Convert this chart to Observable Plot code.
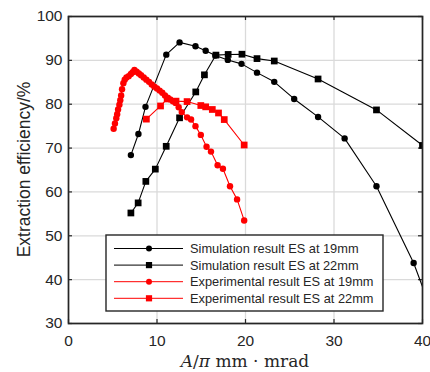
<!DOCTYPE html>
<html><head><meta charset="utf-8">
<script src="https://cdn.jsdelivr.net/npm/d3@7"></script>
<script src="https://cdn.jsdelivr.net/npm/@observablehq/plot@0.6"></script>
<style>body{margin:0;background:#fff} #chart{width:430px;height:372px}</style>
</head><body><div id="chart"></div>
<script>
// ---- data ----
const sim19X = [7.05, 7.9, 8.7, 11.05, 12.55, 14.35, 15.5, 16.6, 18.0, 19.55, 21.3, 23.25, 25.5, 28.2, 31.2, 34.8, 39.0, 41.0];
const sim19Y = [68.4, 73.2, 79.4, 91.3, 94.1, 93.2, 92.2, 91.1, 90.1, 89.2, 87.2, 85.1, 81.2, 77.1, 72.2, 61.3, 43.8, 33.0];
const sim22X = [7.05, 7.87, 8.74, 9.81, 11.04, 12.55, 14.38, 15.36, 16.66, 18.04, 19.6, 21.3, 23.25, 28.2, 34.8, 40.0];
const sim22Y = [55.2, 57.5, 62.4, 65.2, 70.4, 76.9, 82.8, 86.7, 91.2, 91.35, 91.4, 90.4, 89.85, 85.75, 78.7, 70.6];
const exp19X = [5.1, 5.25, 5.4, 5.5, 5.6, 5.75, 5.85, 5.95, 6.05, 6.2, 6.35, 6.55, 6.8, 7.05, 7.25, 7.45, 7.7, 7.95, 8.2, 8.5, 8.8, 9.1, 9.4, 9.7, 10.0, 10.3, 10.6, 10.9, 11.2, 11.5, 11.8, 12.1, 12.45, 12.8, 13.4, 13.85, 14.35, 14.95, 15.6, 16.1, 16.85, 17.45, 18.25, 19.05, 19.85];
const exp19Y = [74.4, 75.6, 76.8, 77.7, 78.8, 79.9, 80.9, 82.0, 83.4, 84.8, 85.6, 86.1, 86.4, 86.9, 87.3, 87.8, 87.4, 87.0, 86.6, 86.1, 85.6, 85.1, 84.5, 84.0, 83.6, 83.1, 82.6, 82.0, 81.5, 81.1, 80.7, 80.3, 79.3, 78.2, 77.0, 76.5, 75.0, 73.0, 70.3, 69.2, 66.1, 65.3, 61.3, 58.3, 53.5];
const exp22X = [8.8, 10.4, 11.15, 12.15, 13.4, 14.95, 15.5, 16.25, 16.95, 17.6, 19.85];
const exp22Y = [76.6, 79.6, 81.2, 80.7, 80.6, 79.7, 79.4, 78.8, 78.0, 76.5, 70.7];
const xTicks = [0, 10, 20, 30, 40];
const yTicks = [30, 40, 50, 60, 70, 80, 90, 100];
const seriesNames = ["Simulation result ES at 19mm", "Simulation result ES at 22mm", "Experimental result ES at 19mm", "Experimental result ES at 22mm"];
const seriesColors = ["#000000", "#000000", "#ff0000", "#ff0000"];
const seriesSymbols = ["circle", "square", "circle", "square"];
const yLabel = "Extraction efficiency/%";

// ---- build ----
const zip = (xs, ys, s) => xs.map((x, i) => ({x, y: ys[i], s}));
const series = [
  zip(sim19X, sim19Y, 0), zip(sim22X, sim22Y, 1), zip(exp19X, exp19Y, 2), zip(exp22X, exp22Y, 3)
];
const W = 430, H = 372, mL = 68, mR = 8, mT = 16, mB = 49;
const plotW = W - mL - mR, plotH = H - mT - mB;
const axisColor = "#262626";
const font = "'Liberation Sans', Arial, sans-serif";

const marks = [
  Plot.gridX(xTicks, {stroke: "#dadada", strokeOpacity: 1, strokeWidth: 1.3}),
  Plot.gridY(yTicks, {stroke: "#dadada", strokeOpacity: 1, strokeWidth: 1.3}),
  Plot.axisX(xTicks, {tickSize: 0, tickPadding: 11, label: null, fontSize: 15.5, fill: axisColor}),
  Plot.axisY(yTicks, {tickSize: 0, tickPadding: 6, label: null, fontSize: 15.5, fill: axisColor}),
  Plot.tickX(xTicks, {x: d => d, insetTop: plotH - 4, stroke: axisColor, strokeWidth: 1.2}),
  Plot.tickX(xTicks, {x: d => d, insetBottom: plotH - 4, stroke: axisColor, strokeWidth: 1.2}),
  Plot.tickY(yTicks, {y: d => d, insetRight: plotW - 4, stroke: axisColor, strokeWidth: 1.2}),
  Plot.tickY(yTicks, {y: d => d, insetLeft: plotW - 4, stroke: axisColor, strokeWidth: 1.2})
];
series.forEach((data, i) => {
  marks.push(Plot.line(data, {x: "x", y: "y", stroke: seriesColors[i], strokeWidth: 1.1, clip: true}));
  marks.push(Plot.dot(data, {x: "x", y: "y", fill: seriesColors[i], stroke: "none",
    symbol: seriesSymbols[i], r: seriesSymbols[i] === "circle" ? 3.2 : 3.8, clip: true}));
});
marks.push(Plot.frame({stroke: axisColor, strokeWidth: 1.7}));

const chart = Plot.plot({
  width: W, height: H, marginLeft: mL, marginRight: mR, marginTop: mT, marginBottom: mB,
  style: {fontFamily: font, fontSize: "15.5px", color: axisColor, background: "#fff", overflow: "visible"},
  x: {domain: [0, 40]}, y: {domain: [30, 100]},
  marks
});
document.getElementById("chart").appendChild(chart);

const svg = d3.select(chart);
// y label
svg.append("text")
  .attr("transform", `translate(24,${mT + plotH / 2}) rotate(-90)`)
  .attr("text-anchor", "middle").attr("dominant-baseline", "central")
  .attr("font-family", font).attr("font-size", 17.5).attr("fill", axisColor)
  .text(yLabel);
// x label (LaTeX-like)
const xl = svg.append("text")
  .attr("x", mL + plotW / 2).attr("y", H - 5)
  .attr("text-anchor", "middle")
  .attr("font-family", "'DejaVu Serif', 'Liberation Serif', serif").attr("font-size", 17).attr("fill", axisColor);
xl.append("tspan").attr("font-style", "italic").text("A");
xl.append("tspan").text("/");
xl.append("tspan").attr("font-style", "italic").text("π");
xl.append("tspan").text(" mm · mrad");

// legend
const lg = svg.append("g");
const lx = 106, ly = 235, lw = 277, lh = 76, rowH = 16.6;
lg.append("rect").attr("x", lx).attr("y", ly).attr("width", lw).attr("height", lh)
  .attr("fill", "#fff").attr("stroke", axisColor).attr("stroke-width", 1.4);
seriesNames.forEach((name, i) => {
  const cy = ly + 13.5 + i * rowH;
  lg.append("line").attr("x1", lx + 8).attr("x2", lx + 77).attr("y1", cy).attr("y2", cy)
    .attr("stroke", seriesColors[i]).attr("stroke-width", 1);
  if (seriesSymbols[i] === "circle")
    lg.append("circle").attr("cx", lx + 43).attr("cy", cy).attr("r", 3).attr("fill", seriesColors[i]);
  else
    lg.append("rect").attr("x", lx + 43 - 3.1).attr("y", cy - 3.1).attr("width", 6.2).attr("height", 6.2).attr("fill", seriesColors[i]);
  lg.append("text").attr("x", lx + 84).attr("y", cy).attr("text-anchor", "start").attr("dominant-baseline", "central")
    .attr("font-family", font).attr("font-size", 12.8).attr("fill", axisColor).text(name);
});
</script></body></html>
